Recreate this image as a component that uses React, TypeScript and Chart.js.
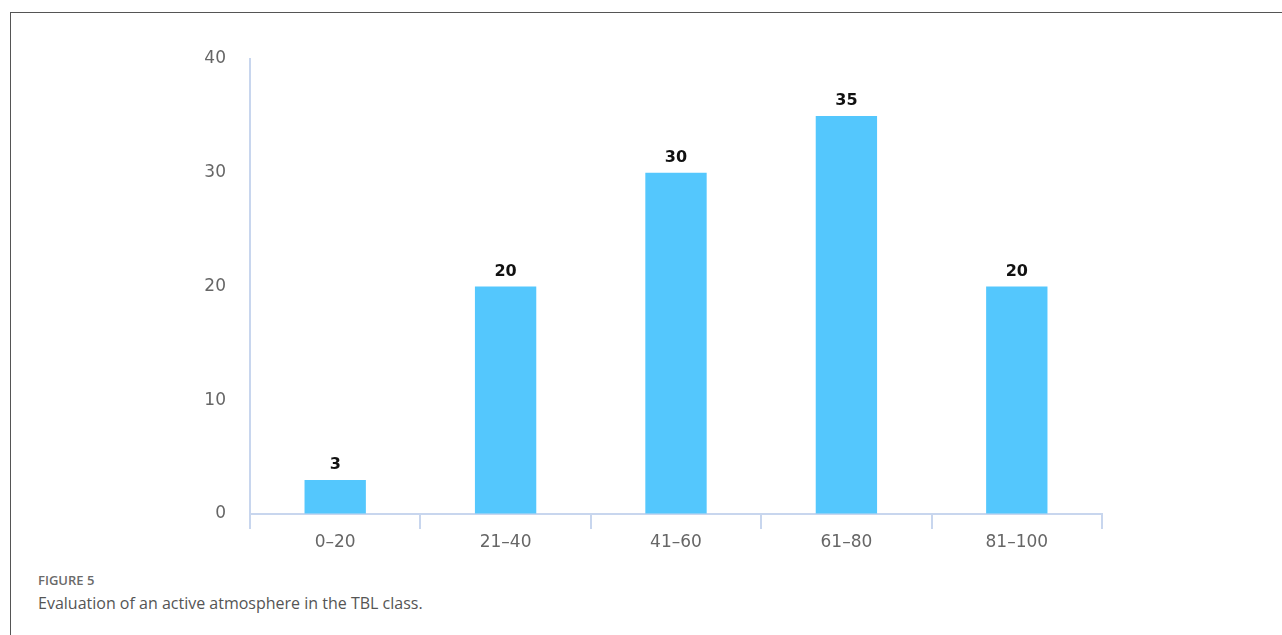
import React, { useEffect, useRef } from "react";
import { Chart, registerables } from "chart.js";

Chart.register(...registerables);

const categories = ["0–20", "21–40", "41–60", "61–80", "81–100"];
const values = [3, 20, 30, 35, 20];
const yTicks = [0, 10, 20, 30, 40];

const AXIS_COLOR = "#c8d6ee";
const BAR_COLOR = "#54c7fd";

const valueLabels = {
  id: "valueLabels",
  afterDatasetsDraw(chart: any) {
    const ctx = chart.ctx;
    const meta = chart.getDatasetMeta(0);
    ctx.save();
    ctx.font = "bold 16px 'DejaVu Sans'";
    ctx.fillStyle = "#111";
    ctx.textAlign = "center";
    ctx.textBaseline = "alphabetic";
    meta.data.forEach((bar: any, i: number) => {
      ctx.fillText(String(values[i]), bar.x, bar.y - 11);
    });
    ctx.restore();
  },
};

export default function App() {
  const ref = useRef<HTMLCanvasElement | null>(null);
  useEffect(() => {
    if (!ref.current) return;
    const chart = new Chart(ref.current, {
      type: "bar",
      data: {
        labels: categories,
        datasets: [
          {
            data: values,
            backgroundColor: BAR_COLOR,
            borderWidth: 0,
            barPercentage: 0.36,
            categoryPercentage: 1,
          },
        ],
      },
      options: {
        responsive: false,
        animation: false,
        layout: { padding: { top: 59, right: 180, left: 0, bottom: 0 } },
        plugins: { legend: { display: false }, tooltip: { enabled: false } },
        scales: {
          x: {
            grid: {
              offset: true,
              drawOnChartArea: false,
              drawTicks: true,
              tickLength: 15,
              color: AXIS_COLOR,
              lineWidth: 2,
            },
            border: { color: AXIS_COLOR, width: 2 },
            ticks: {
              color: "#666",
              font: { family: "DejaVu Sans", size: 17 },
              padding: 3,
              maxRotation: 0,
            },
            afterFit(scale: any) {
              scale.height = 46;
            },
          },
          y: {
            min: 0,
            max: 40,
            afterBuildTicks(scale: any) {
              scale.ticks = yTicks.map((v) => ({ value: v }));
            },
            grid: { drawOnChartArea: false, drawTicks: false },
            border: { color: AXIS_COLOR, width: 2 },
            ticks: {
              color: "#666",
              font: { family: "DejaVu Sans", size: 17 },
              padding: 24,
            },
            afterFit(scale: any) {
              scale.width = 250;
            },
          },
        },
      },
      plugins: [valueLabels],
    });
    return () => chart.destroy();
  }, []);

  return (
    <div
      style={{
        position: "absolute",
        left: 0,
        top: 0,
        width: 1282,
        height: 635,
        background: "#fff",
        overflow: "hidden",
      }}
    >
      <div
        style={{
          position: "absolute",
          left: 10,
          top: 12,
          width: 1272,
          height: 623,
          borderTop: "1px solid #555",
          borderLeft: "1px solid #555",
          boxSizing: "border-box",
        }}
      />
      <canvas
        ref={ref}
        width={1282}
        height={560}
        style={{ position: "absolute", left: 0, top: 0, width: 1282, height: 560 }}
      />
      <div
        style={{
          position: "absolute",
          left: 38,
          top: 571,
          fontFamily: "'Open Sans', sans-serif",
          fontSize: 13,
          fontWeight: 600,
          color: "#6a6a6a",
          lineHeight: "18px",
        }}
      >
        FIGURE 5
      </div>
      <div
        style={{
          position: "absolute",
          left: 38,
          top: 592,
          fontFamily: "'Open Sans', sans-serif",
          fontSize: 16,
          color: "#555",
          lineHeight: "22px",
        }}
      >
        Evaluation of an active atmosphere in the TBL class.
      </div>
    </div>
  );
}
